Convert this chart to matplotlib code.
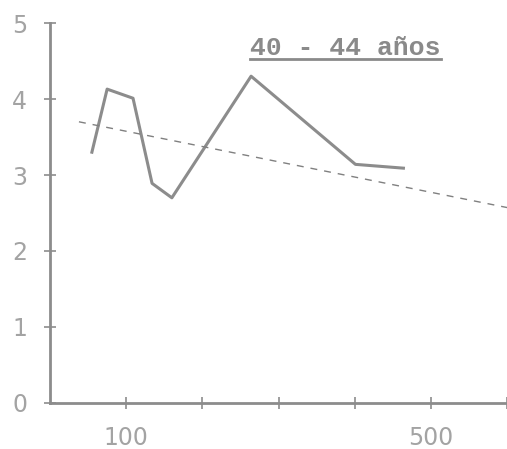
import matplotlib
matplotlib.use("Agg")
import matplotlib.pyplot as plt
from matplotlib.lines import Line2D

# data
x_obs = [55, 75, 109, 134, 160, 264, 401, 464]
y_obs = [3.30, 4.13, 4.01, 2.89, 2.70, 4.30, 3.14, 3.09]
x_trend = [38, 601]
y_trend = [3.70, 2.57]
x_ticks = [100, 200, 300, 400, 500, 600]
x_ticklabels = ['100', '', '', '', '500', '']
y_ticks = [0, 1, 2, 3, 4, 5]
title = '40 - 44 años'

ink = '#8c8c8c'
fig = plt.figure(figsize=(5.07, 4.49), dpi=100)
ax = fig.add_axes([50/507, 46/449, 457/507, 380/449])

ax.plot(x_obs, y_obs, color=ink, lw=2.2, solid_joinstyle='round')
ax.plot(x_trend, y_trend, color='#808080', lw=1.0, dashes=(5, 5))

ax.set_xlim(0, 600)
ax.set_ylim(0, 5)
for s in ['top', 'right']:
    ax.spines[s].set_visible(False)
for s in ['left', 'bottom']:
    ax.spines[s].set_color(ink)
    ax.spines[s].set_linewidth(2)

ax.set_xticks(x_ticks)
ax.set_xticklabels(x_ticklabels)
ax.set_yticks(y_ticks)
ax.tick_params(direction='inout', length=9, width=1.2, color=ink,
               labelcolor='#a3a3a3', labelsize=17)
ax.tick_params(axis='y', pad=12)
ax.tick_params(axis='x', pad=12)
for lab in ax.get_xticklabels() + ax.get_yticklabels():
    lab.set_family('DejaVu Sans')

t = fig.text(250/507, 1 - 55/449, title, family='Liberation Mono', fontsize=19,
             fontweight='bold', color='#8a8a8a', ha='left', va='baseline')
fig.canvas.draw()
bb = t.get_window_extent().transformed(fig.transFigure.inverted())
fig.add_artist(Line2D([bb.x0, bb.x1], [bb.y0 + 0.002, bb.y0 + 0.002],
                      transform=fig.transFigure, color='#8a8a8a', lw=2))

fig.savefig('out.png', dpi=100)
